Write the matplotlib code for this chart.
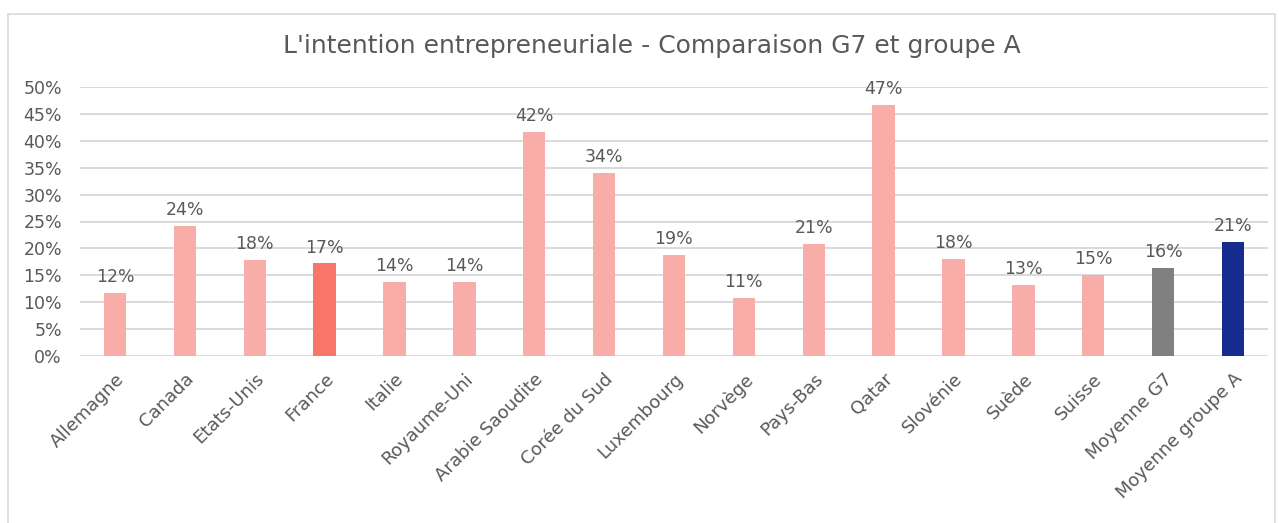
import matplotlib
matplotlib.use("Agg")
import matplotlib.pyplot as plt
from matplotlib.patches import Rectangle
from matplotlib.ticker import FuncFormatter

plt.rcParams["font.family"] = ["DejaVu Sans"]

# Data
pays = [
    "Allemagne", "Canada", "Etats-Unis", "France", "Italie", "Royaume-Uni",
    "Arabie Saoudite", "Corée du Sud", "Luxembourg", "Norvège", "Pays-Bas",
    "Qatar", "Slovénie", "Suède", "Suisse", "Moyenne G7", "Moyenne groupe A",
]
valeurs = [
    0.117, 0.242, 0.178, 0.172, 0.138, 0.138,
    0.417, 0.341, 0.188, 0.108, 0.208,
    0.467, 0.180, 0.132, 0.150, 0.164, 0.212,
]
etiquettes = [
    "12%", "24%", "18%", "17%", "14%", "14%",
    "42%", "34%", "19%", "11%", "21%",
    "47%", "18%", "13%", "15%", "16%", "21%",
]

ROSE = "#F9ADA8"
couleurs = [ROSE] * len(pays)
couleurs[pays.index("France")] = "#F8756A"
couleurs[pays.index("Moyenne G7")] = "#808080"
couleurs[pays.index("Moyenne groupe A")] = "#162D8F"

TXT = "#595959"

fig = plt.figure(figsize=(12.79, 5.23), dpi=100)
W, H = 1279, 523

# light frame around the chart
fig.patches.append(Rectangle((8 / W, -0.01), (1275 - 8) / W, 1.01 - 14 / H,
                             transform=fig.transFigure, fill=False,
                             edgecolor="#D9D9D9", linewidth=1.2))

ax = fig.add_axes([80 / W, 1 - 356 / H, (1268 - 80) / W, (356 - 87) / H])

x = range(len(pays))
ax.bar(x, valeurs, width=0.32, color=couleurs, zorder=3)

for xi, v, lab in zip(x, valeurs, etiquettes):
    ax.annotate(lab, (xi, v), xytext=(0, 5), textcoords="offset points",
                ha="center", va="bottom", fontsize=12.5, color=TXT)

ax.set_ylim(0, 0.5)
ax.set_xlim(-0.5, len(pays) - 0.5)
ax.set_yticks([i * 0.05 for i in range(11)])
ax.yaxis.set_major_formatter(FuncFormatter(lambda v, p: f"{v * 100:.0f}%"))
ax.grid(axis="y", color="#D9D9D9", linewidth=1.4, zorder=0)
for s in ax.spines.values():
    s.set_visible(False)
ax.tick_params(length=0, labelsize=12.5, colors=TXT)
ax.tick_params(axis="y", pad=13)
ax.set_xticks(list(x))
ax.set_xticklabels(pays, rotation=45, ha="right", rotation_mode="anchor",
                   fontsize=13)
ax.tick_params(axis="x", pad=10)

fig.text(652 / W, 1 - 46 / H, "L'intention entrepreneuriale - Comparaison G7 et groupe A",
         ha="center", va="center", fontsize=18, color=TXT)

fig.savefig("out.png", dpi=100)
